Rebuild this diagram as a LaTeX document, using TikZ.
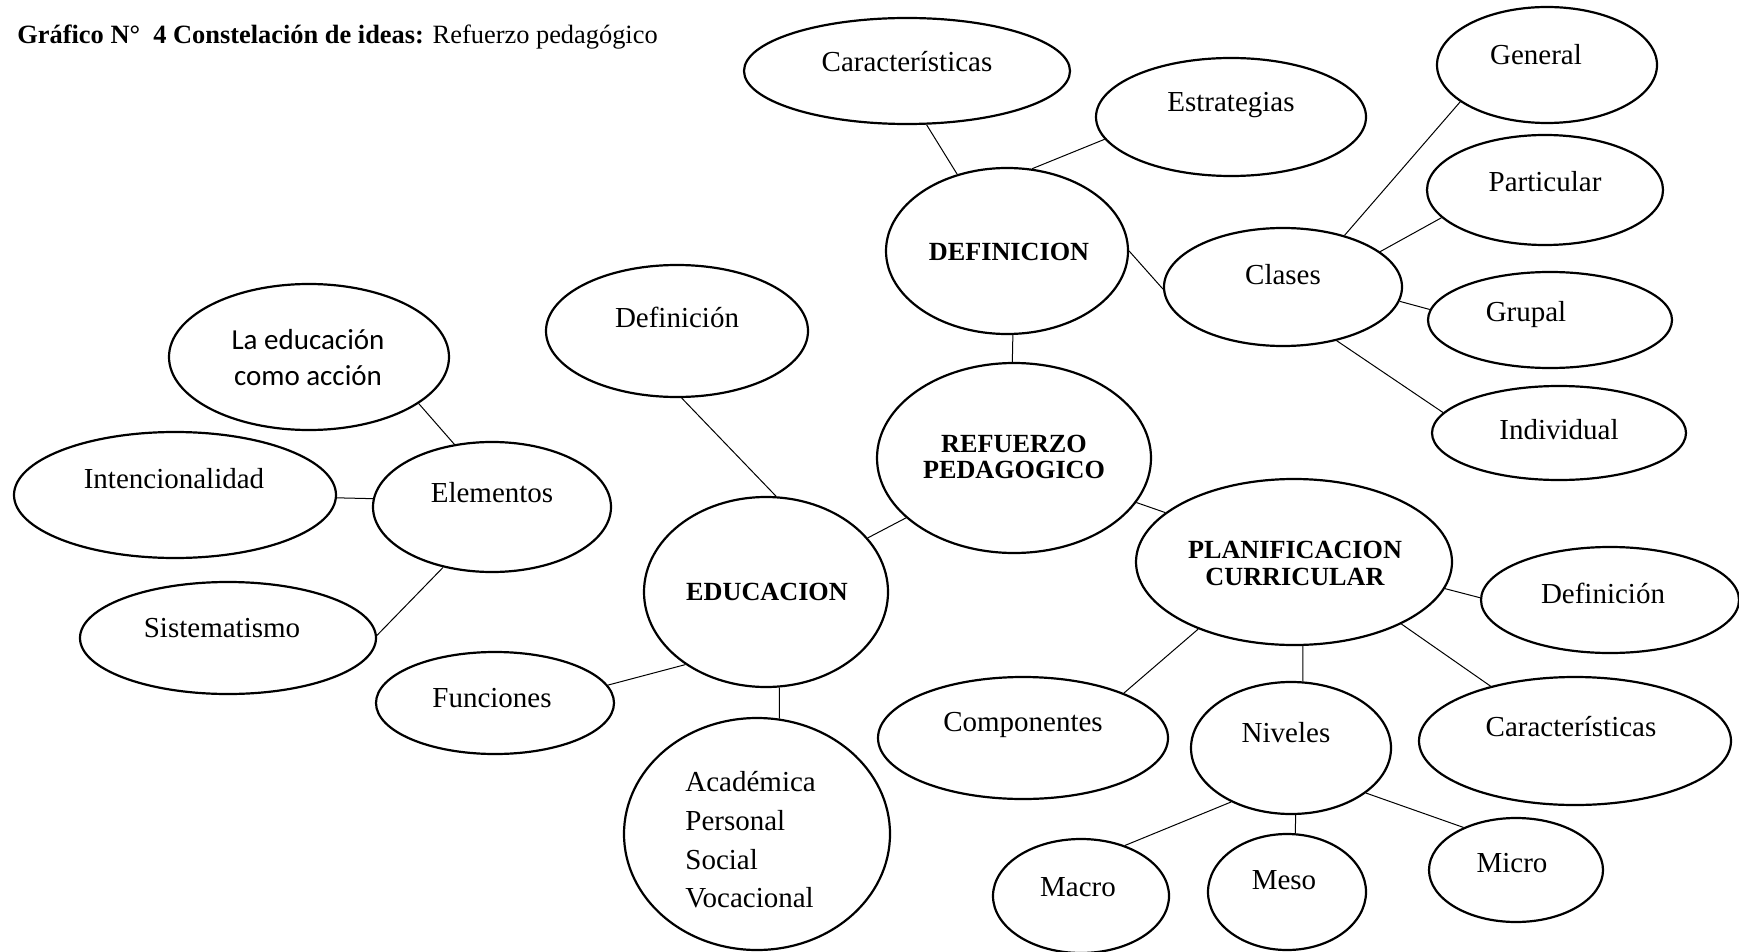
\documentclass[tikz,border=0pt]{standalone}
\usepackage{fontspec}
\setmainfont{Liberation Serif}
\newfontfamily\calibrifont{Carlito}
\usetikzlibrary{shapes.geometric}
\newcommand\ellnode[5]{\node[ell, minimum width=#4pt, minimum height=#5pt] (#1) at (#2,#3) {};}
\begin{document}
\begin{tikzpicture}[x=0.5pt,y=-0.5pt,
  ell/.style={draw, ellipse, line width=1.1pt, inner sep=0pt},
  conn/.style={line width=0.5pt},
  txt/.style={font=\fontsize{14.5}{17}\selectfont, inner sep=0pt},
  btxt/.style={font=\bfseries\fontsize{13.1}{12.8}\selectfont, inner sep=0pt, align=center},
]
\useasboundingbox (0,0) rectangle (1739,952);

\node[anchor=base west, inner sep=0pt, font=\fontsize{13.2}{15}\selectfont] (title) at (17,44)
  {\textbf{Gráfico N°~~4 Constelación de ideas:} Refuerzo pedagógico};

% ellipses: name, cx, cy, rx(px)=width pt, ry(px)=height pt
\ellnode{caract1}{907}{71}{163}{53}
\ellnode{estr}{1231}{117}{135}{59}
\ellnode{defin}{1007}{251}{121}{83}
\ellnode{general}{1547}{65}{110}{58}
\ellnode{partic}{1545}{190}{118}{55}
\ellnode{clases}{1283}{287}{119}{59}
\ellnode{grupal}{1550}{320}{122}{48}
\ellnode{indiv}{1559}{433}{127}{47}
\ellnode{refu}{1014}{458}{137}{95}
\ellnode{planif}{1294}{562}{158}{83}
\ellnode{def2}{1610}{600}{129}{53}
\ellnode{compo}{1023}{738}{145}{61}
\ellnode{niveles}{1291}{748}{100}{66}
\ellnode{caract2}{1575}{741}{156}{64}
\ellnode{macro}{1081}{896}{88}{57}
\ellnode{meso}{1287}{892}{79}{58}
\ellnode{micro}{1516}{870}{87}{52}
\ellnode{edu}{766}{592}{122}{95}
\ellnode{acad}{757}{834}{133}{116}
\ellnode{funciones}{495}{703}{119}{51}
\ellnode{def1}{677}{331}{131}{66}
\ellnode{laedu}{309}{357}{140}{73}
\ellnode{intenc}{175}{495}{161}{63}
\ellnode{elem}{492}{507}{119}{65}
\ellnode{sistem}{228}{638}{148}{56}

% texts
\node[txt] (t-caract1) at (907,62) {Características};
\node[txt] (t-estr) at (1231,105) {Estrategias};
\node[btxt] (t-defin) at (1009,252) {DEFINICION};
\node[txt] (t-general) at (1536,55) {General};
\node[txt] (t-partic) at (1545,182) {Particular};
\node[txt] (t-clases) at (1283,275) {Clases};
\node[txt] (t-grupal) at (1526,315) {Grupal};
\node[txt] (t-indiv) at (1559,430) {Individual};
\node[btxt] (t-refu) at (1014,457) {REFUERZO\\PEDAGOGICO};
\node[btxt, font=\bfseries\fontsize{13.1}{13.5}\selectfont] (t-planif) at (1295,563) {PLANIFICACION\\CURRICULAR};
\node[txt] (t-def2) at (1603,593) {Definición};
\node[txt] (t-compo) at (1023,725) {Componentes};
\node[txt] (t-niveles) at (1286,733) {Niveles};
\node[txt] (t-caract2) at (1571,727) {Características};
\node[txt] (t-macro) at (1078,887) {Macro};
\node[txt] (t-meso) at (1284,880) {Meso};
\node[txt] (t-micro) at (1512,863) {Micro};
\node[btxt] (t-edu) at (767,592) {EDUCACION};
\node[txt, align=left, anchor=west, font=\fontsize{14.5}{19.3}\selectfont] (t-acad) at (685,840)
  {Académica\\Personal\\Social\\Vocacional};
\node[txt] (t-funciones) at (492,698) {Funciones};
\node[txt] (t-def1) at (677,317) {Definición};
\node[txt, align=center, font=\calibrifont\fontsize{14.5}{18}\selectfont] (t-laedu) at (308,358) {La educación\\como acción};
\node[txt] (t-intenc) at (174,479) {Intencionalidad};
\node[txt] (t-elem) at (492,493) {Elementos};
\node[txt] (t-sistem) at (222,628) {Sistematismo};

% connectors
\draw[conn] (caract1.-70.6) -- (defin.123);
\draw[conn] (estr.190) -- (defin.73);
\draw[conn] (general.203) -- (clases.40.6);
\draw[conn] (partic.195) -- (clases.20);
\draw[conn] (defin.0) -- (clases.181.5);
\draw[conn] (clases.-7.7) -- (grupal.175.7);
\draw[conn] (clases.-45.5) -- (indiv.170.8);
\draw[conn] (defin.-86.6) -- (refu.91.2);
\draw[conn] (refu.209) -- (edu.28.7);
\draw[conn] (refu.-20.2) -- (planif.159.3);
\draw[conn] (planif.-10) -- (def2.179);
\draw[conn] (planif.215) -- (compo.24);
\draw[conn] (planif.-84) -- (niveles.80);
\draw[conn] (planif.-30) -- (caract2.147);
\draw[conn] (niveles.222.5) -- (macro.49.3);
\draw[conn] (niveles.-86.6) -- (meso.82.8);
\draw[conn] (niveles.-31.2) -- (micro.141.8);
\draw[conn] (def1.-86.3) -- (edu.84.8);
\draw[conn] (edu.-82.8) -- (acad.79.7);
\draw[conn] (funciones.9) -- (edu.222);
\draw[conn] (laedu.-23.4) -- (elem.121.4);
\draw[conn] (intenc.-1.4) -- (elem.176.3);
\draw[conn] (elem.231.3) -- (sistem.1.9);
\end{tikzpicture}
\end{document}
